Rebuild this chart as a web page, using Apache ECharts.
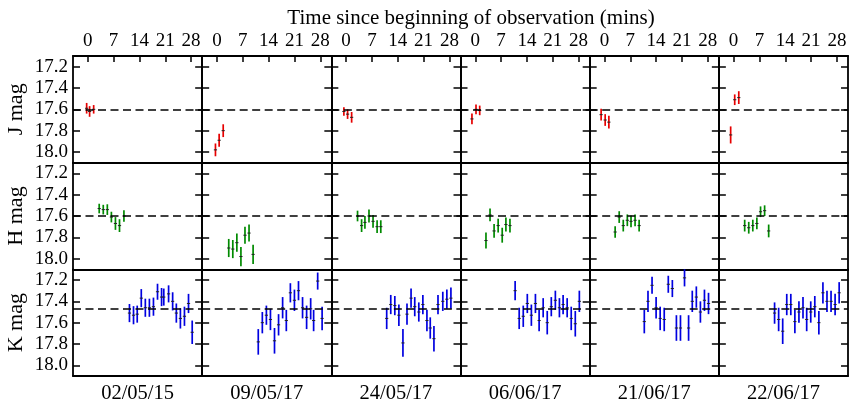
<!DOCTYPE html>
<html>
<head>
<meta charset="utf-8">
<script src="https://cdn.jsdelivr.net/npm/echarts@6/dist/echarts.min.js"></script>
<style>
html,body{margin:0;padding:0;background:#fff;}
#chart{width:859px;height:410px;}
</style>
</head>
<body>
<div id="chart"></div>
<script>
const dates = ['02/05/15', '09/05/17', '24/05/17', '06/06/17', '21/06/17', '22/06/17'];
const bandNames = ['J mag', 'H mag', 'K mag'];
const bandMeans = [17.6, 17.6, 17.47];
const bandColors = ['#e60000', '#008a00', '#0000e0'];
const timeTicks = [0, 7, 14, 21, 28];
const magTicks = [17.2, 17.4, 17.6, 17.8, 18.0];
const xTitle = 'Time since beginning of observation (mins)';

const jTime = [
  [-0.3, 0.5, 1.6], [-0.4, 0.6, 1.7], [-0.6, 0.4, 1.5],
  [-0.9, 0.2, 1.2], [-0.9, 0.2, 1.2], [-0.8, 0.3, 1.4]
];
const jMag = [
  [17.59, 17.62, 17.60], [17.98, 17.89, 17.80], [17.62, 17.645, 17.675],
  [17.69, 17.60, 17.61], [17.65, 17.70, 17.72], [17.84, 17.51, 17.49]
];
const jErr = [
  [0.05, 0.05, 0.04], [0.06, 0.06, 0.06], [0.04, 0.045, 0.05],
  [0.05, 0.045, 0.045], [0.055, 0.055, 0.06], [0.08, 0.05, 0.06]
];

const hTime = [
  [3.1, 4.2, 5.3, 6.4, 7.5, 8.6, 9.8], [3.2, 4.3, 5.4, 6.5, 7.6, 8.7, 9.8],
  [3.1, 4.2, 5.1, 6.2, 7.3, 8.4, 9.4], [2.9, 4.0, 5.1, 6.2, 7.3, 8.3, 9.4],
  [2.9, 4.0, 5.1, 6.2, 7.2, 8.3, 9.4], [3.0, 4.1, 5.2, 6.3, 7.3, 8.4, 9.5]
];
const hMag = [
  [17.53, 17.54, 17.54, 17.61, 17.67, 17.69, 17.60],
  [17.90, 17.91, 17.85, 17.98, 17.78, 17.76, 17.96],
  [17.60, 17.69, 17.66, 17.60, 17.65, 17.70, 17.70],
  [17.83, 17.59, 17.74, 17.69, 17.78, 17.68, 17.69],
  [17.75, 17.61, 17.69, 17.64, 17.65, 17.64, 17.69],
  [17.69, 17.71, 17.69, 17.67, 17.56, 17.55, 17.74]
];
const hErr = [
  [0.045, 0.045, 0.05, 0.05, 0.06, 0.06, 0.055],
  [0.085, 0.085, 0.085, 0.09, 0.08, 0.08, 0.09],
  [0.05, 0.06, 0.06, 0.06, 0.06, 0.06, 0.06],
  [0.075, 0.06, 0.065, 0.065, 0.07, 0.065, 0.065],
  [0.055, 0.055, 0.055, 0.055, 0.055, 0.055, 0.055],
  [0.055, 0.055, 0.055, 0.055, 0.05, 0.05, 0.06]
];

const kTime = [
  [11.3, 12.4, 13.4, 14.5, 15.6, 16.7, 17.8, 18.9, 20.0, 20.6, 21.9, 23.0, 24.0, 25.1, 26.2, 27.3, 28.3],
  [11.2, 12.3, 13.4, 14.5, 15.6, 16.7, 17.8, 18.8, 19.9, 21.0, 22.1, 23.2, 24.3, 25.4, 26.2, 27.3, 28.5],
  [11.0, 12.1, 13.2, 14.3, 15.4, 16.5, 17.6, 18.6, 19.7, 20.8, 21.9, 22.8, 23.8, 24.9, 26.2, 27.3, 28.4],
  [10.8, 11.9, 13.0, 14.1, 15.2, 16.3, 17.3, 18.4, 19.5, 20.6, 21.7, 22.8, 23.8, 24.9, 26.0, 27.1, 28.2],
  [10.8, 11.8, 12.9, 14.0, 15.1, 16.2, 17.3, 18.4, 19.5, 20.6, 21.7, 22.8, 23.8, 24.9, 26.0, 27.1, 28.2],
  [11.1, 12.2, 13.3, 14.4, 15.5, 16.6, 17.7, 18.8, 19.8, 20.9, 22.0, 23.1, 24.2, 25.3, 26.4, 27.5, 28.6]
];
const kMag = [
  [17.51, 17.53, 17.52, 17.37, 17.46, 17.46, 17.45, 17.31, 17.36, 17.36, 17.33, 17.40, 17.51, 17.56, 17.54, 17.42, 17.69],
  [17.78, 17.60, 17.53, 17.57, 17.77, 17.62, 17.46, 17.58, 17.32, 17.39, 17.30, 17.46, 17.55, 17.47, 17.58, 17.21, 17.56],
  [17.56, 17.43, 17.44, 17.53, 17.79, 17.52, 17.37, 17.45, 17.50, 17.43, 17.58, 17.65, 17.75, 17.43, 17.40, 17.38, 17.37],
  [17.30, 17.56, 17.54, 17.42, 17.53, 17.42, 17.58, 17.46, 17.60, 17.45, 17.39, 17.46, 17.43, 17.46, 17.56, 17.61, 17.40],
  [17.59, 17.40, 17.25, 17.46, 17.56, 17.57, 17.24, 17.28, 17.65, 17.65, 17.18, 17.65, 17.40, 17.36, 17.50, 17.39, 17.42],
  [17.51, 17.57, 17.68, 17.43, 17.43, 17.59, 17.50, 17.46, 17.57, 17.50, 17.45, 17.60, 17.32, 17.40, 17.40, 17.43, 17.32]
];
const kErr = [
  [0.085, 0.085, 0.08, 0.085, 0.085, 0.085, 0.085, 0.075, 0.085, 0.08, 0.08, 0.085, 0.09, 0.095, 0.09, 0.09, 0.11],
  [0.12, 0.1, 0.09, 0.1, 0.12, 0.1, 0.1, 0.1, 0.09, 0.1, 0.09, 0.1, 0.11, 0.1, 0.1, 0.08, 0.11],
  [0.1, 0.09, 0.09, 0.1, 0.13, 0.1, 0.09, 0.09, 0.09, 0.09, 0.1, 0.1, 0.12, 0.09, 0.09, 0.09, 0.1],
  [0.09, 0.1, 0.1, 0.09, 0.1, 0.09, 0.1, 0.09, 0.11, 0.09, 0.09, 0.09, 0.09, 0.09, 0.11, 0.12, 0.1],
  [0.11, 0.1, 0.08, 0.1, 0.11, 0.11, 0.08, 0.08, 0.12, 0.12, 0.08, 0.12, 0.1, 0.1, 0.1, 0.1, 0.1],
  [0.1, 0.11, 0.12, 0.1, 0.1, 0.11, 0.1, 0.1, 0.11, 0.1, 0.1, 0.11, 0.1, 0.1, 0.1, 0.1, 0.1]
];

const bandTime = [jTime, hTime, kTime];
const bandMag = [jMag, hMag, kMag];
const bandErr = [jErr, hErr, kErr];

const FONT = '"Liberation Serif", "DejaVu Serif", serif';
const chart = echarts.init(document.getElementById('chart'));

const L0 = 73, T0 = 56, PW = 129.17, PH = 106.67;
const grids = [], xAxes = [], yAxes = [], series = [];

for (let r = 0; r < 3; r++) {
  for (let c = 0; c < 6; c++) {
    const g = r * 6 + c;
    grids.push({ left: L0 + c * PW, top: T0 + r * PH, width: PW, height: PH, containLabel: false });
    const lineStyle = { color: '#000', width: 1.8 };
    xAxes.push({
      gridIndex: g, type: 'value', min: -4, max: 31, position: 'bottom',
      axisLine: { show: true, onZero: false, lineStyle },
      axisTick: { show: false }, axisLabel: { show: false }, splitLine: { show: false },
      name: r === 2 ? dates[c] : '', nameLocation: 'middle', nameGap: 7,
      nameTextStyle: { fontFamily: FONT, fontSize: 20.5, color: '#000', verticalAlign: 'top' }
    });
    xAxes.push({
      gridIndex: g, type: 'value', min: -4, max: 31, position: 'top',
      axisLine: { show: true, onZero: false, lineStyle },
      axisTick: { show: r === 0, inside: true, length: 6, customValues: timeTicks, lineStyle: { color: '#000', width: 1.5 } },
      axisLabel: { show: r === 0, customValues: timeTicks, margin: 5, fontFamily: FONT, fontSize: 19, color: '#000' },
      splitLine: { show: false }
    });
    yAxes.push({
      gridIndex: g, type: 'value', min: 17.1, max: 18.1, inverse: true, position: 'left',
      axisLine: { show: true, onZero: false, lineStyle },
      axisTick: { show: true, inside: true, length: 7, customValues: magTicks, lineStyle: { color: '#000', width: 1.5 } },
      axisLabel: { show: c === 0, customValues: magTicks, margin: 5, fontFamily: FONT, fontSize: 19, color: '#000',
        formatter: v => Number(v).toFixed(1) },
      splitLine: { show: false },
      name: c === 0 ? bandNames[r] : '', nameLocation: 'middle', nameGap: 46, nameRotate: 90,
      nameTextStyle: { fontFamily: FONT, fontSize: 22, color: '#000' }
    });
    yAxes.push({
      gridIndex: g, type: 'value', min: 17.1, max: 18.1, inverse: true, position: 'right',
      axisLine: { show: true, onZero: false, lineStyle },
      axisTick: { show: true, inside: true, length: 7, customValues: magTicks, lineStyle: { color: '#000', width: 1.5 } },
      axisLabel: { show: false }, splitLine: { show: false }
    });
    const t = bandTime[r][c], m = bandMag[r][c], e = bandErr[r][c];
    const data = t.map((x, i) => [x, m[i], e[i]]);
    const color = bandColors[r];
    series.push({
      type: 'custom', xAxisIndex: 2 * g, yAxisIndex: 2 * g, data,
      encode: { x: 0, y: 1 }, silent: true, z: 3,
      renderItem: (params, api) => {
        const x = api.value(0), y = api.value(1), er = api.value(2);
        const p = api.coord([x, y]);
        const top = api.coord([x, y - er]);
        const bot = api.coord([x, y + er]);
        return {
          type: 'group', children: [
            { type: 'line', shape: { x1: p[0], y1: top[1], x2: p[0], y2: bot[1] }, style: { stroke: color, lineWidth: 1.7 } },
            { type: 'line', shape: { x1: p[0] - 1.6, y1: p[1], x2: p[0] + 1.6, y2: p[1] }, style: { stroke: '#222', lineWidth: 1 } }
          ]
        };
      },
      markLine: {
        silent: true, symbol: 'none', label: { show: false }, animation: false,
        lineStyle: { color: '#000', type: [8, 4.5], width: 1.5 },
        data: [{ yAxis: bandMeans[r] }]
      }
    });
  }
}

chart.setOption({
  animation: false,
  backgroundColor: '#fff',
  grid: grids, xAxis: xAxes, yAxis: yAxes, series,
  graphic: [{
    type: 'text', x: 471, y: 18,
    style: { text: xTitle, fontFamily: FONT, fontSize: 21, fill: '#000', textAlign: 'center', textVerticalAlign: 'middle' }
  }]
});
</script>
</body>
</html>
